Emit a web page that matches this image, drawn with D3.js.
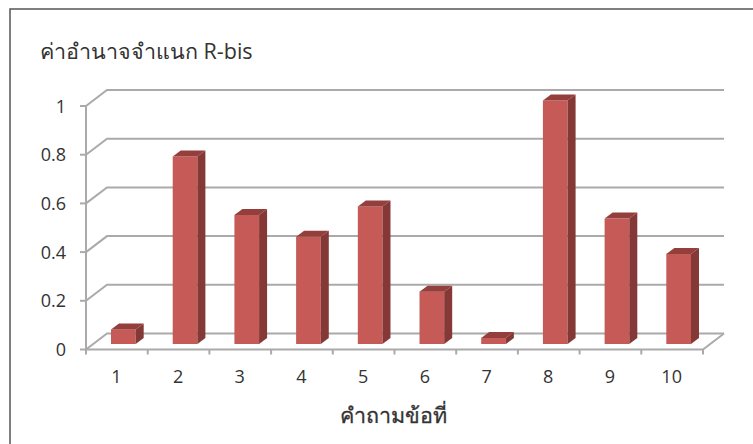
<!DOCTYPE html>
<html>
<head>
<meta charset="utf-8">
<script src="https://cdn.jsdelivr.net/npm/d3@7"></script>
<style>
body { margin: 0; background: #fff; }
svg { display: block; }
text { font-family: "Open Sans", "Noto Sans", sans-serif; fill: #333; }
</style>
</head>
<body>
<svg id="chart" width="753" height="444"></svg>
<script>
const categories = ["1", "2", "3", "4", "5", "6", "7", "8", "9", "10"];
const rBis = [0.06, 0.77, 0.53, 0.44, 0.565, 0.215, 0.025, 1, 0.515, 0.37];
const yTicks = [0, 0.2, 0.4, 0.6, 0.8, 1];
const chartTitle = "ค่าอำนาจจำแนก R-bis";
const xTitle = "คำถามข้อที่";

const svg = d3.select("#chart");

// floor of the 3d box: front edge and how far the back wall sits from it
const depthX = 21, depthY = -16;
const xScale = d3.scaleBand().domain(categories).range([86, 703]).paddingInner(0.6).paddingOuter(0.3);
const tickScale = d3.scaleBand().domain(categories).range([86, 703]);
const yScale = d3.scaleLinear().domain([0, 1]).range([349.5, 106]);

// outer frame, only the top and left edges fall inside the page
svg.append("path")
    .attr("d", "M10,444V9H753")
    .attr("fill", "none")
    .attr("stroke", "#555")
    .attr("stroke-width", 1.5);

const grey = "#aaa";

// gridlines run along the back wall, then slant down to the value axis
const grid = svg.append("g").attr("fill", "none").attr("stroke", grey).attr("stroke-width", 2);
yTicks.forEach(t => {
    const y = yScale(t);
    grid.append("path").attr("d", `M86,${y}L${86 + depthX},${y + depthY}H${703 + depthX}`);
    grid.append("path").attr("d", `M80,${y}H86`);
});
grid.append("path").attr("d", `M86,${yScale(1)}V${yScale(0)}H703L${703 + depthX},${yScale(0) + depthY}`);
categories.concat("end").forEach((c, i) => {
    const x = 86 + i * tickScale.step();
    grid.append("path").attr("d", `M${x},${yScale(0)}v5`);
});

svg.append("g").selectAll("text")
    .data(yTicks)
    .enter()
    .append("text")
    .attr("x", 66)
    .attr("y", d => yScale(d) + 6.5)
    .attr("text-anchor", "end")
    .attr("font-size", 18)
    .text(d => d);

svg.append("g").selectAll("text")
    .data(categories)
    .enter()
    .append("text")
    .attr("x", d => tickScale(d) + tickScale.bandwidth() / 2 - 0.5)
    .attr("y", 383)
    .attr("text-anchor", "middle")
    .attr("font-size", 18)
    .text(d => d);

// each bar is three faces: front, top and right side
const frontShift = 6.5, baseLift = -5.5, sideX = 8, sideY = -6;
const bars = svg.append("g").selectAll("g")
    .data(categories.map((c, i) => ({ c, v: rBis[i] })))
    .enter()
    .append("g");

const barLeft = d => xScale(d.c) + frontShift;
const barRight = d => barLeft(d) + xScale.bandwidth();
const barTop = d => yScale(d.v) + baseLift;
const barBase = yScale(0) + baseLift;

bars.append("rect")
    .attr("x", barLeft)
    .attr("y", barTop)
    .attr("width", xScale.bandwidth())
    .attr("height", d => barBase - barTop(d))
    .attr("fill", "#c55a56");
bars.append("path")
    .attr("d", d => `M${barLeft(d)},${barTop(d)}l${sideX},${sideY}H${barRight(d) + sideX}L${barRight(d)},${barTop(d)}Z`)
    .attr("fill", "#943f3c");
bars.append("path")
    .attr("d", d => `M${barRight(d)},${barTop(d)}l${sideX},${sideY}V${barBase + sideY}L${barRight(d)},${barBase}Z`)
    .attr("fill", "#843936");

svg.append("text")
    .attr("x", 40).attr("y", 59)
    .attr("font-size", 21.5)
    .text(chartTitle);

svg.append("text")
    .attr("x", 393).attr("y", 423)
    .attr("text-anchor", "middle")
    .attr("font-size", 21.5)
    .attr("stroke", "#333")
    .attr("stroke-width", 0.3)
    .text(xTitle);
</script>
</body>
</html>
